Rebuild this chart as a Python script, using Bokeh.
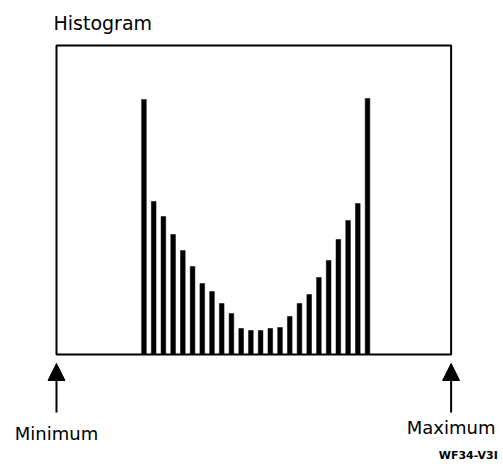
from bokeh.plotting import figure
from bokeh.models import Range1d, Arrow, NormalHead, ColumnDataSource
from bokeh.core.properties import value
from bokeh.embed import file_html
from bokeh.resources import INLINE

# Histogram data: bin positions on the value axis and bin counts
bins = [9, 10, 11, 12, 13, 14, 15, 16, 17, 18, 19, 20,
        21, 22, 23, 24, 25, 26, 27, 28, 29, 30, 31, 32]
counts = [255, 153, 138, 120, 104, 88, 71, 63, 51, 41, 26, 24,
          24, 26, 27, 38, 51, 60, 77, 94, 115, 134, 151, 256]
x_min = 0.0       # "Minimum" end of the value axis
x_max = 40.6      # "Maximum" end of the value axis
y_top = 309       # top of the histogram box
title_text = "Histogram"
min_label = "Minimum"
max_label = "Maximum"
code_label = "WF34-V3I"

FONT = "DejaVu Sans"

p = figure(width=503, height=469, output_backend="svg", toolbar_location=None,
           x_axis_type=None, y_axis_type=None,
           x_range=Range1d(-5.76, 45.99), y_range=Range1d(-115, 354),
           min_border=0, min_border_left=0, min_border_right=0,
           min_border_top=0, min_border_bottom=0)
p.outline_line_color = None
p.xgrid.visible = False
p.ygrid.visible = False
p.background_fill_color = "white"
p.border_fill_color = "white"

# box
p.quad(left=[x_min], right=[x_max], bottom=[0], top=[y_top],
       fill_color=None, line_color="black", line_width=2)

# bars
src = ColumnDataSource(dict(x=bins, top=counts))
p.vbar(x="x", top="top", bottom=0, width=0.48, source=src,
       fill_color="black", line_color="black", line_width=0.5)

# arrows
for xv in (x_min, x_max):
    p.add_layout(Arrow(end=NormalHead(size=17, fill_color="black", line_color="black"),
                       x_start=xv, y_start=-58, x_end=xv, y_end=-9,
                       line_width=2, line_color="black"))

# texts
p.text(x=[-0.31], y=[332], text=[title_text], text_font=value(FONT),
       text_font_size="19px", text_align="left", text_baseline="alphabetic",
       text_color="black")
p.text(x=[x_min], y=[-79], text=[min_label], text_font=value(FONT),
       text_font_size="18px", text_align="center", text_baseline="alphabetic",
       text_color="black")
p.text(x=[x_max], y=[-73], text=[max_label], text_font=value(FONT),
       text_font_size="18px", text_align="center", text_baseline="alphabetic",
       text_color="black")
p.text(x=[45.4], y=[-101], text=[code_label], text_font=value(FONT),
       text_font_size="11px", text_font_style="bold", text_align="right",
       text_baseline="alphabetic", text_color="black")

open("out.html", "w").write(file_html(p, INLINE))
